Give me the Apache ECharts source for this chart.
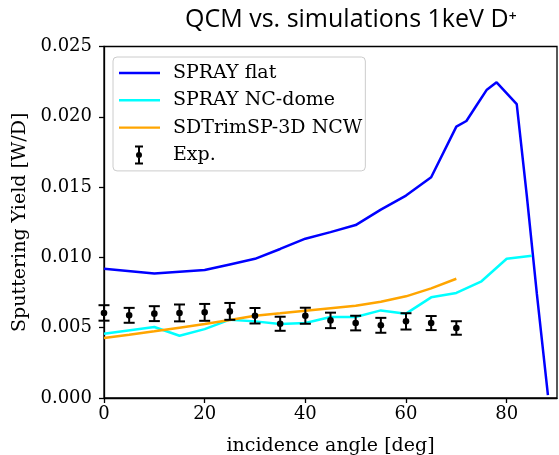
<!DOCTYPE html>
<html>
<head>
<meta charset="utf-8">
<script src="https://cdn.jsdelivr.net/npm/echarts@6/dist/echarts.min.js"></script>
<style>html,body{margin:0;padding:0;background:#fff}#c{width:559px;height:455px}</style>
</head>
<body>
<div id="c"></div>
<script>
// --- data (yield in W/D) ---
const flatX = [0, 10, 20, 25, 30, 35, 40, 45, 50, 55, 60, 65, 70, 72, 74, 76, 78, 82, 84, 86, 88.2];
const flatY = [0.0092, 0.00886, 0.0091, 0.0095, 0.0099, 0.0106, 0.01133, 0.0118, 0.0123, 0.0134, 0.0144, 0.0157, 0.0193, 0.0197, 0.0208, 0.0219, 0.02245, 0.0209, 0.0144, 0.0074, 0.0002];
const domeX = [0, 10, 15, 20, 25, 30, 35, 40, 45, 50, 55, 60, 65, 70, 75, 80, 85];
const domeY = [0.00457, 0.00505, 0.00443, 0.0049, 0.00557, 0.00545, 0.00526, 0.00533, 0.00576, 0.00576, 0.00623, 0.0060, 0.00716, 0.00747, 0.0083, 0.0099, 0.01012];
const ncwX = [0, 5, 10, 15, 20, 25, 30, 35, 40, 45, 50, 55, 60, 65, 70];
const ncwY = [0.00427, 0.0045, 0.00474, 0.005, 0.00526, 0.00555, 0.00585, 0.00602, 0.0062, 0.00638, 0.00656, 0.00685, 0.00723, 0.0078, 0.00848];
const expX = [0, 5, 10, 15, 20, 25, 30, 35, 40, 45, 50, 55, 60, 65, 70];
const expY = [0.00605, 0.00588, 0.0060, 0.00605, 0.00609, 0.00616, 0.00585, 0.00528, 0.00585, 0.00552, 0.00533, 0.00517, 0.00545, 0.00533, 0.00498];
const expErr = [0.00055, 0.00053, 0.00053, 0.0006, 0.0006, 0.0006, 0.00055, 0.0005, 0.00057, 0.00055, 0.00052, 0.00053, 0.00058, 0.0005, 0.00048];
const xTicks = [0, 20, 40, 60, 80];
const yTicks = [0, 0.005, 0.01, 0.015, 0.02, 0.025];

const zip = (a, b) => a.map((v, i) => [v, b[i]]);
const serif = 'DejaVu Serif';

const lineIcon = 'path://M0,0h0.01v0.01h-0.01z M0,8.8h41v2.4h-41z M48.99,19.99h0.01v0.01h-0.01z';
const errIcon = 'path://M0,0h0.01v0.01h-0.01z M16,0.5h8v2h-8z M19,2.5h2v15h-2z M16,17.5h8v2h-8z M23,10a3,3 0 1,1 -6,0a3,3 0 1,1 6,0z M48.99,19.99h0.01v0.01h-0.01z';

const chart = echarts.init(document.getElementById('c'), null, {renderer: 'canvas'});
chart.setOption({
  animation: false,
  backgroundColor: '#fff',
  title: {
    text: 'QCM vs. simulations 1keV D\u207A',
    left: 180, top: 2,
    textStyle: {fontFamily: 'Open Sans', fontSize: 25, fontWeight: 'normal', color: '#000'}
  },
  grid: {left: 104, right: 2, top: 46.5, bottom: 57, show: true, borderColor: '#000', borderWidth: 1.3, backgroundColor: 'transparent', outerBoundsMode: 'none', containLabel: false},
  legend: {
    orient: 'vertical', left: 113, top: 57,
    padding: [6, 3, 6, 6], itemGap: 7.3,
    itemWidth: 49, itemHeight: 20,
    borderColor: '#cccccc', borderWidth: 1, borderRadius: 4,
    backgroundColor: 'rgba(255,255,255,0.8)',
    textStyle: {fontFamily: serif, fontSize: 19, color: '#000'},
    data: [
      {name: 'SPRAY flat', icon: lineIcon},
      {name: 'SPRAY NC-dome', icon: lineIcon},
      {name: 'SDTrimSP-3D NCW', icon: lineIcon},
      {name: 'Exp.', icon: errIcon, itemStyle: {color: '#000'}}
    ]
  },
  xAxis: {
    type: 'value', min: 0, max: 90, interval: 20,
    name: 'incidence angle [deg]', nameLocation: 'middle', nameGap: 39,
    nameTextStyle: {fontFamily: serif, fontSize: 19, color: '#000'},
    axisLine: {show: true, lineStyle: {color: '#000', width: 1.3}},
    axisTick: {show: true, length: 5, lineStyle: {color: '#000', width: 1.3}, customValues: xTicks},
    axisLabel: {fontFamily: serif, fontSize: 18, color: '#000', margin: 7, customValues: xTicks},
    splitLine: {show: false}
  },
  yAxis: {
    type: 'value', min: 0, max: 0.025, interval: 0.005,
    name: 'Sputtering Yield [W/D]', nameLocation: 'middle', nameGap: 72,
    nameTextStyle: {fontFamily: serif, fontSize: 19, color: '#000'},
    axisLine: {show: true, lineStyle: {color: '#000', width: 1.3}},
    axisTick: {show: true, length: 5, lineStyle: {color: '#000', width: 1.3}, customValues: yTicks},
    axisLabel: {fontFamily: serif, fontSize: 18, color: '#000', margin: 12, formatter: v => v.toFixed(3), customValues: yTicks},
    splitLine: {show: false}
  },
  series: [
    {name: 'SPRAY flat', type: 'line', data: zip(flatX, flatY), showSymbol: false, symbol: 'none', color: '#0000ff', lineStyle: {width: 2.5, color: '#0000ff'}, z: 3},
    {name: 'SPRAY NC-dome', type: 'line', data: zip(domeX, domeY), showSymbol: false, symbol: 'none', color: '#00ffff', lineStyle: {width: 2.5, color: '#00ffff'}, z: 3},
    {name: 'SDTrimSP-3D NCW', type: 'line', data: zip(ncwX, ncwY), showSymbol: false, symbol: 'none', color: '#ffa500', lineStyle: {width: 2.5, color: '#ffa500'}, z: 3},
    {
      name: 'Exp.', type: 'custom', z: 5,
      itemStyle: {color: '#000'},
      data: expX.map((x, i) => [x, expY[i], expY[i] - expErr[i], expY[i] + expErr[i]]),
      encode: {x: 0, y: [1, 2, 3]},
      renderItem: function (params, api) {
        const c = api.coord([api.value(0), api.value(1)]);
        const lo = api.coord([api.value(0), api.value(2)]);
        const hi = api.coord([api.value(0), api.value(3)]);
        const hw = 5.5;
        const st = {stroke: '#000', lineWidth: 2, fill: null};
        return {
          type: 'group',
          children: [
            {type: 'line', shape: {x1: c[0], y1: lo[1], x2: c[0], y2: hi[1]}, style: st},
            {type: 'line', shape: {x1: c[0] - hw, y1: lo[1], x2: c[0] + hw, y2: lo[1]}, style: st},
            {type: 'line', shape: {x1: c[0] - hw, y1: hi[1], x2: c[0] + hw, y2: hi[1]}, style: st},
            {type: 'circle', shape: {cx: c[0], cy: c[1], r: 3.3}, style: {fill: '#000'}}
          ]
        };
      }
    }
  ]
});
</script>
</body>
</html>
